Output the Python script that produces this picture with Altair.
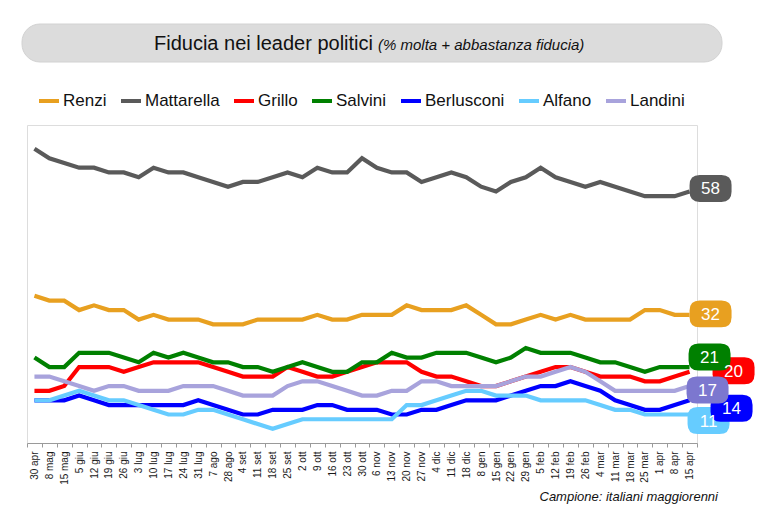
import altair as alt
import pandas as pd

dates = ["30 apr","8 mag","15 mag","5 giu","12 giu","19 giu","26 giu","3 lug","10 lug","17 lug",
         "24 lug","31 lug","7 ago","28 ago","4 set","11 set","18 set","25 set","2 ott","9 ott",
         "16 ott","23 ott","30 ott","6 nov","13 nov","20 nov","27 nov","4 dic","11 dic","18 dic",
         "8 gen","15 gen","22 gen","29 gen","5 feb","12 feb","19 feb","26 feb","4 mar","11 mar",
         "18 mar","25 mar","1 apr","8 apr","15 apr"]

leaders = ["Renzi", "Mattarella", "Grillo", "Salvini", "Berlusconi", "Alfano", "Landini"]

renzi = [36,35,35,33,34,33,33,31,32,31,31,31,30,30,30,31,31,31,31,32,31,31,32,32,
         32,34,33,33,33,34,32,30,30,31,32,31,32,31,31,31,31,33,33,32,32]
mattarella = [67,65,64,63,63,62,62,61,63,62,62,61,60,59,60,60,61,62,61,63,62,62,65,63,
              62,62,60,61,62,61,59,58,60,61,63,61,60,59,60,59,58,57,57,57,58]
grillo = [16,16,17,21,21,21,20,21,22,22,22,22,21,20,19,19,19,21,20,19,19,20,21,22,
          22,22,20,19,19,18,17,17,18,19,20,21,21,20,19,19,19,18,18,19,20]
salvini = [23,21,21,24,24,24,23,22,24,23,24,23,22,22,21,21,20,21,22,21,20,20,22,22,
           24,23,23,24,24,24,23,22,23,25,24,24,24,23,22,22,21,20,21,21,21]
berlusconi = [14,14,14,15,14,13,13,13,13,13,13,14,13,12,11,11,12,12,12,13,13,12,12,12,
              11,11,12,12,13,14,14,14,15,16,17,17,18,17,16,14,13,12,12,13,14]
alfano = [14,14,15,16,15,14,14,13,12,11,11,12,12,11,10,9,8,9,10,10,10,10,10,10,
          10,13,13,14,15,16,16,15,15,15,14,14,14,14,13,12,12,11,11,11,11]
landini = [19,19,18,17,16,17,17,16,16,16,17,17,17,16,15,15,15,17,18,18,17,16,15,15,
           16,16,18,18,17,17,17,17,18,19,19,20,21,20,18,16,16,16,16,16,17]

series = [renzi, mattarella, grillo, salvini, berlusconi, alfano, landini]
colors = ["#E8A020", "#5A5A5A", "#FF0000", "#008000", "#0000FF", "#66CCFF", "#A8A3DC"]
box_colors = {"Renzi": "#E8A020", "Mattarella": "#5A5A5A", "Grillo": "#FF0000",
              "Salvini": "#008000", "Berlusconi": "#0000FF", "Alfano": "#66CCFF",
              "Landini": "#7C77CF"}
# label box offsets (pixels) from the last point, in drawing order
label_style = [("Grillo", 44, -1), ("Salvini", 20, -10), ("Alfano", 19, 6),
               ("Berlusconi", 42, 8), ("Landini", 18, 4), ("Renzi", 21, -1),
               ("Mattarella", 21, -3)]

rows = []
for name, vals in zip(leaders, series):
    for d, v in zip(dates, vals):
        rows.append({"leader": name, "date": d, "value": v})
df = pd.DataFrame(rows)
last = df[df["date"] == dates[-1]].copy()
last["label"] = last["value"].astype(str)

FONT = "Liberation Sans"
W, H = 670, 318
PAD_L, PAD_T = 27, 125

xenc = alt.X("date:N", sort=dates,
             scale=alt.Scale(type="band", domain=dates, paddingInner=0, paddingOuter=0),
             axis=alt.Axis(title=None, labelAngle=270, labelAlign="right", labelBaseline="middle",
                           labelFontSize=10, labelColor="#1A1A1A", labelFont=FONT,
                           labelPadding=4, tickBand="extent", tickSize=4, tickColor="#9A9A9A",
                           domainColor="#9A9A9A", domainWidth=1.2, grid=False, labelOverlap=False))
yenc = alt.Y("value:Q", scale=alt.Scale(domain=[5, 72], zero=False, nice=False), axis=None)

lines = alt.Chart(df).mark_line(strokeWidth=4.2, interpolate="linear").encode(
    x=xenc, y=yenc,
    color=alt.Color("leader:N", sort=leaders,
                    scale=alt.Scale(domain=leaders, range=colors),
                    legend=alt.Legend(title=None, orient="none", direction="horizontal",
                                      legendX=10, legendY=-36, symbolType="stroke",
                                      symbolStrokeWidth=4, symbolSize=400,
                                      labelFontSize=17, labelFont=FONT, labelColor="#111111",
                                      labelOffset=2, columnPadding=6, columns=7)),
    detail="leader:N",
)

box_path = ("M -0.52,-0.64 L 0.52,-0.64 Q 1,-0.64 1,-0.16 L 1,0.16 Q 1,0.64 0.52,0.64 "
            "L -0.52,0.64 Q -1,0.64 -1,0.16 L -1,-0.16 Q -1,-0.64 -0.52,-0.64 Z")

box_layers = []
text_layers = []
for name, dx, dy in label_style:
    sub = alt.Chart(last).transform_filter(alt.datum.leader == name)
    box_layers.append(sub.mark_point(shape=box_path, size=1764, filled=True, opacity=1,
                                     color=box_colors[name], strokeWidth=0,
                                     xOffset=dx, yOffset=dy).encode(x=xenc, y=yenc))
    text_layers.append(sub.mark_text(color="white", fontSize=17, font=FONT,
                                     xOffset=dx, yOffset=dy + 1).encode(x=xenc, y=yenc, text="label:N"))

deco = pd.DataFrame({"k": [0]})
title_box = alt.Chart(deco).mark_rect(cornerRadius=18, fill="#DCDCDC", stroke="#D2D2D2").encode(
    x=alt.value(22 - PAD_L), x2=alt.value(722 - PAD_L),
    y=alt.value(24 - PAD_T), y2=alt.value(62 - PAD_T))
title_main = alt.Chart(pd.DataFrame({"t": ["Fiducia nei leader politici"]})).mark_text(
    align="right", baseline="middle", fontSize=20, font=FONT, color="#111111").encode(
    x=alt.value(373 - PAD_L), y=alt.value(44 - PAD_T), text="t:N")
title_sub = alt.Chart(pd.DataFrame({"t": ["(% molta + abbastanza fiducia)"]})).mark_text(
    align="left", baseline="middle", fontSize=15, font=FONT, fontStyle="italic", color="#111111").encode(
    x=alt.value(378 - PAD_L), y=alt.value(45 - PAD_T), text="t:N")
footer = alt.Chart(pd.DataFrame({"t": ["Campione: italiani maggiorenni"]})).mark_text(
    align="right", baseline="middle", fontSize=13, font=FONT, fontStyle="italic", color="#111111").encode(
    x=alt.value(718 - PAD_L), y=alt.value(497 - PAD_T), text="t:N")

chart = alt.layer(title_box, title_main, title_sub, lines, *box_layers, *text_layers, footer).properties(
    width=W, height=H,
    padding={"left": PAD_L, "top": PAD_T, "right": 767 - PAD_L - W, "bottom": 519 - PAD_T - H},
    autosize=alt.AutoSizeParams(type="none"),
    background="white",
).configure_view(stroke=None).configure(font=FONT)

chart.save("out.html", embed_options={"renderer": "svg", "actions": False})
